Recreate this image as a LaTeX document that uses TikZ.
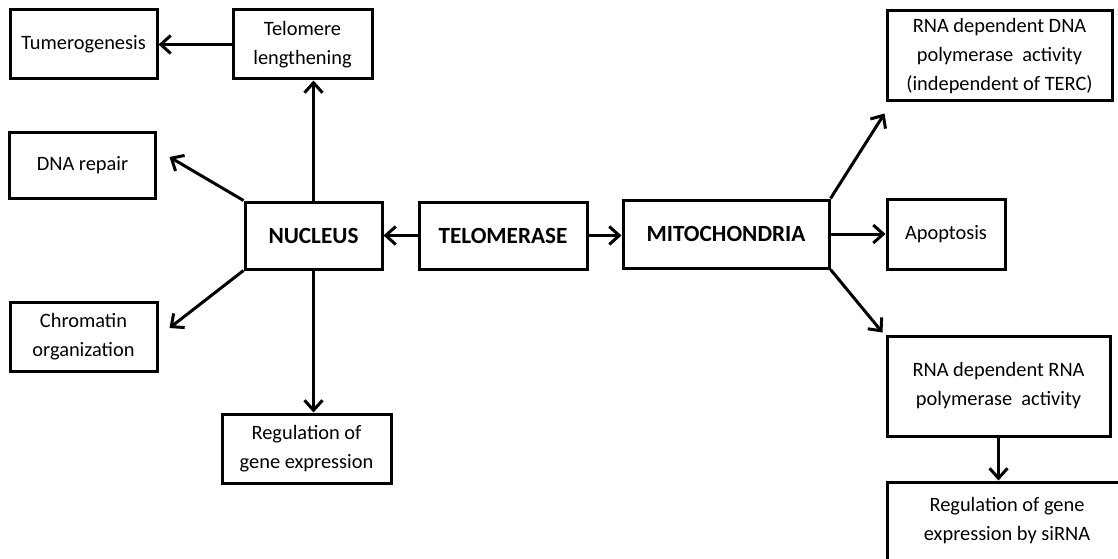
\documentclass[tikz,border=0pt]{standalone}
\usepackage{amsmath}
\usepackage{xcolor}
\usepackage{fontspec}
\setmainfont{Carlito}
\usepackage{tikz}
\usetikzlibrary{arrows.meta}

\begin{document}
\begin{tikzpicture}[x=50pt, y=50pt,
		box/.style={draw, line width=1.5pt, align=center, inner sep=0pt, font=\fontsize{10.2}{14.5}\selectfont},
		bigbox/.style={box, font=\fontsize{11.6}{14}\selectfont\bfseries},
		arr/.style={line width=1.5pt, -{Straight Barb[length=5pt,width=9pt]}}]
			\useasboundingbox (0,0) rectangle (11.18,5.58);
			% centre row
			\node[bigbox, minimum width=68.5pt, minimum height=33.5pt] at (3.135, 3.225) (nuc) {NUCLEUS};
			\node[bigbox, minimum width=84pt, minimum height=33.5pt] at (5.03, 3.225) (tase) {TELOMERASE};
			\node[bigbox, minimum width=103pt, minimum height=34pt] at (7.26, 3.24) (mito) {MITOCHONDRIA};
			% nucleus side
			\node[box, minimum width=73.5pt, minimum height=34.5pt] at (0.835, 5.135) (tum) {Tumerogenesis};
			\node[box, minimum width=69.5pt, minimum height=34.5pt] at (3.025, 5.135) (tel) {Telomere\\lengthening};
			\node[box, minimum width=72.5pt, minimum height=32.5pt] at (0.825, 3.925) (dna) {DNA repair};
			\node[box, minimum width=73.5pt, minimum height=34.5pt] at (0.835, 2.215) (chrom) {Chromatin\\organization};
			\node[box, minimum width=84.5pt, minimum height=34.5pt] at (3.065, 1.095) (reg) {Regulation of\\gene expression};
			% mitochondria side
			\node[box, minimum width=112.5pt, minimum height=45pt] at (9.995, 5.02) (rdna) {RNA dependent DNA\\polymerase~ activity\\(independent of TERC)};
			\node[box, minimum width=59pt, minimum height=35pt] at (9.46, 3.24) (apop) {Apoptosis};
			\node[box, minimum width=111.5pt, minimum height=50pt] at (9.985, 1.72) (rrna) {RNA dependent RNA\\polymerase~ activity};
			\node[box, minimum width=120pt, minimum height=39pt] at (10.07, 0.37) (sirna) {Regulation of gene\\expression by siRNA};

			\draw[arr] (tase.west) -- (nuc.east);
			\draw[arr] (tase.east) -- (tase.east -| mito.west);
			\draw[arr] (nuc.north) -- (nuc.north |- tel.south);
			\draw[arr] (nuc.south) -- (nuc.south |- reg.north);
			\draw[arr] (tel.west) -- (tum.east);
			\draw[arr] (nuc.north west) -- ([shift={(0.13,0.085)}]dna.east);
			\draw[arr] (nuc.south west) -- ([shift={(0.11,0.085)}]chrom.east);
			\draw[arr] (mito.north east) -- ([shift={(-0.01,-0.11)}]rdna.south west);
			\draw[arr] (mito.east) -- (apop.west);
			\draw[arr] (mito.south east) -- ([shift={(-0.03,0.02)}]rrna.north west);
			\draw[arr] (rrna.south) -- (rrna.south |- sirna.north);
		\end{tikzpicture}
\end{document}
